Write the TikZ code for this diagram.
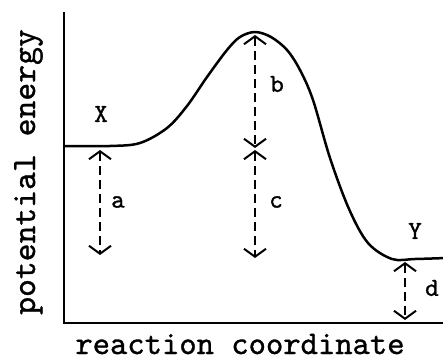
\documentclass[tikz,border=0pt]{standalone}
\usepackage{fontspec}
\newfontfamily\mytt{lmmono10-regular.otf}[FakeBold=1.0]
\usetikzlibrary{arrows.meta}
\begin{document}
\begin{tikzpicture}[x=1pt,y=-1pt,
  lbl/.style={font=\mytt\fontsize{26}{26}\selectfont, inner sep=0pt},
  axlbl/.style={font=\mytt\fontsize{33}{33}\selectfont, inner sep=0pt, anchor=base},
  barb/.tip={Straight Barb[length=8pt,width=22pt,line width=2pt]},
  dimarrow/.style={line width=2pt, dash pattern=on 9pt off 5pt, barb-barb},
  axisline/.style={line width=2.5pt, line cap=rect},
  curveline/.style={line width=2.5pt, line join=round, line cap=round}]
\useasboundingbox (0,0) rectangle (443,358);
\clip (0,0) rectangle (443,358);
% axes
\coordinate (ytop) at (64,13);
\coordinate (origin) at (64,323);
\coordinate (xend) at (445,323);
\draw[axisline] (ytop) -- (origin) -- (xend);
% energy curve
\draw[curveline] plot[smooth, tension=0.55] coordinates {(64,146) (110,146) (140,143) (167,128) (187,106) (207,77) (227,50) (240,37) (255,32) (271,37) (287,50) (300,70) (313,100) (330,158) (349,209) (368,243) (392,259) (415,259) (446,258)};
% dimension arrows
\coordinate (a1) at (100,150);
\coordinate (a2) at (100,255);
\coordinate (b1) at (255,35);
\coordinate (b2) at (255,148);
\coordinate (c1) at (255,150);
\coordinate (c2) at (255,258);
\coordinate (d1) at (405,262);
\coordinate (d2) at (405,320);
\draw[dimarrow] (a1) -- (a2);
\draw[dimarrow] (b1) -- (b2);
\draw[dimarrow] (c1) -- (c2);
\draw[dimarrow] (d1) -- (d2);
% labels
\node[lbl] (X) at (101,114) {X};
\node[lbl] (Y) at (415,231) {Y};
\node[lbl] (la) at (118,202) {a};
\node[lbl] (lb) at (277,84) {b};
\node[lbl] (lc) at (276,202) {c};
\node[lbl] (ld) at (432,288) {d};
\node[axlbl] (xlabel) at (240,354) {reaction coordinate};
\node[axlbl, rotate=90, font=\mytt\fontsize{34}{34}\selectfont] (ylabel) at (35,172) {potential energy};
\end{tikzpicture}
\end{document}
